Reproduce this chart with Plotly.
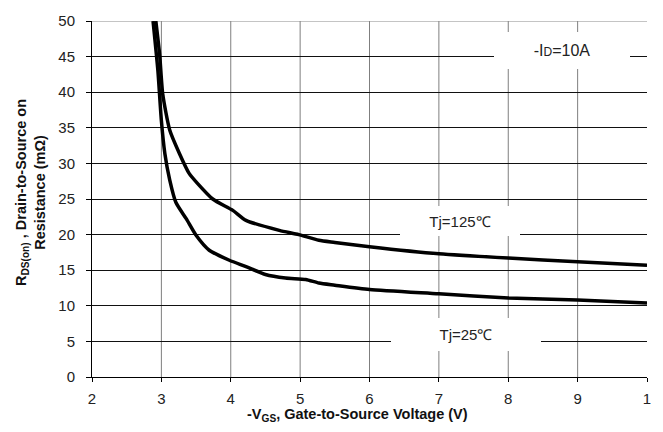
import plotly.graph_objects as go

# Gate-voltage sweep, on-resistance in milliohms (-ID = 10 A)
vgs_125 = [2.92, 2.975, 3.02, 3.12, 3.26, 3.40, 3.52, 3.74, 4.03, 4.22, 4.70, 4.98, 5.27,
           5.5, 6.0, 7.0, 8.0, 9.0, 10.0]
rds_125 = [50.0, 45.3, 39.7, 34.7, 31.4, 28.6, 27.2, 25.0, 23.4, 22.0, 20.6, 20.0, 19.2,
           18.9, 18.3, 17.3, 16.7, 16.2, 15.7]

vgs_25 = [2.88, 2.95, 3.0, 3.05, 3.12, 3.21, 3.36, 3.50, 3.69, 3.98, 4.22, 4.50, 4.79, 5.08,
          5.27, 5.5, 6.0, 7.0, 8.0, 9.0, 10.0]
rds_25 = [50.0, 43.0, 36.0, 31.4, 27.7, 24.5, 22.2, 19.9, 17.8, 16.4, 15.5, 14.4, 13.9, 13.7,
          13.2, 12.9, 12.3, 11.7, 11.1, 10.8, 10.4]

x_ticks = [2, 3, 4, 5, 6, 7, 8, 9, 10]
x_tick_text = ["2", "3", "4", "5", "6", "7", "8", "9", "1"]
y_ticks = [0, 5, 10, 15, 20, 25, 30, 35, 40, 45, 50]

LABEL_FONT = "Liberation Sans, Arial, sans-serif"

fig = go.Figure()
for xs, ys in ((vgs_125, rds_125), (vgs_25, rds_25)):
    fig.add_trace(go.Scatter(
        x=xs, y=ys, mode="lines",
        line=dict(color="black", width=3.5, shape="spline", smoothing=0.6),
        showlegend=False, hoverinfo="skip",
    ))

fig.update_layout(
    width=663, height=432,
    margin=dict(l=92, r=13, t=16, b=55),
    paper_bgcolor="white", plot_bgcolor="white",
    font=dict(family=LABEL_FONT, size=15, color="#222"),
)

fig.update_xaxes(
    range=[2, 10], tickvals=x_ticks, ticktext=x_tick_text,
    showgrid=False,
    showline=True, linecolor="black", linewidth=1,
    ticks="outside", ticklen=4, tickcolor="black",
    ticklabelstandoff=4, zeroline=False,
)
fig.update_yaxes(
    range=[0, 50], tickvals=y_ticks,
    showgrid=True, gridcolor="#111", gridwidth=1,
    showline=True, linecolor="black", linewidth=1,
    ticks="outside", ticklen=5, tickcolor="black",
    ticklabelstandoff=8, zeroline=False,
)

# vertical grid only at the interior ticks (no line on the open right edge)
for xv in x_ticks[1:-1]:
    fig.add_shape(type="line", xref="x", yref="paper", x0=xv, x1=xv, y0=0, y1=1,
                  line=dict(color="#7f7f7f", width=1), layer="between")

# top border of the grid is lighter than the other horizontal lines
fig.add_shape(type="line", xref="paper", yref="y", x0=0, x1=1, y0=50, y1=50,
              line=dict(color="#8a8a8a", width=1), layer="between")

# axis titles
title_font = dict(family="Liberation Sans, Arial, sans-serif", size=14.5, color="#111")
fig.add_annotation(
    xref="paper", yref="paper", x=-0.111, y=0.518, xanchor="center", yanchor="middle",
    textangle=-90, showarrow=False, font=title_font,
    text="<b>R<sub>DS(on)</sub> , Drain-to-Source on<br>Resistance (mΩ)</b>",
)
fig.add_annotation(
    xref="paper", yref="paper", x=0.4785, y=-0.107, xanchor="center", yanchor="middle",
    showarrow=False, font=title_font,
    text="<b>-V<sub>GS</sub>, Gate-to-Source Voltage (V)</b>",
)

# labels on white boxes over the grid
fig.add_annotation(
    x=8.78, y=45.9, showarrow=False,
    text="-I<span style='font-size:12px'>D</span>=10A",
    bgcolor="white", width=136, height=37, borderpad=0, borderwidth=0,
    font=dict(family=LABEL_FONT, size=16, color="#222"),
)
tj_font = dict(family=LABEL_FONT, size=15, color="#222")
fig.add_annotation(
    x=7.31, y=21.9, showarrow=False, text="Tj=125℃",
    bgcolor="white", width=120, height=30, borderpad=0, borderwidth=0, font=tj_font,
)
fig.add_annotation(
    x=7.39, y=6.0, showarrow=False, text="Tj=25℃",
    bgcolor="white", width=150, height=33, borderpad=0, borderwidth=0, font=tj_font,
)

fig.write_html("out.html")
